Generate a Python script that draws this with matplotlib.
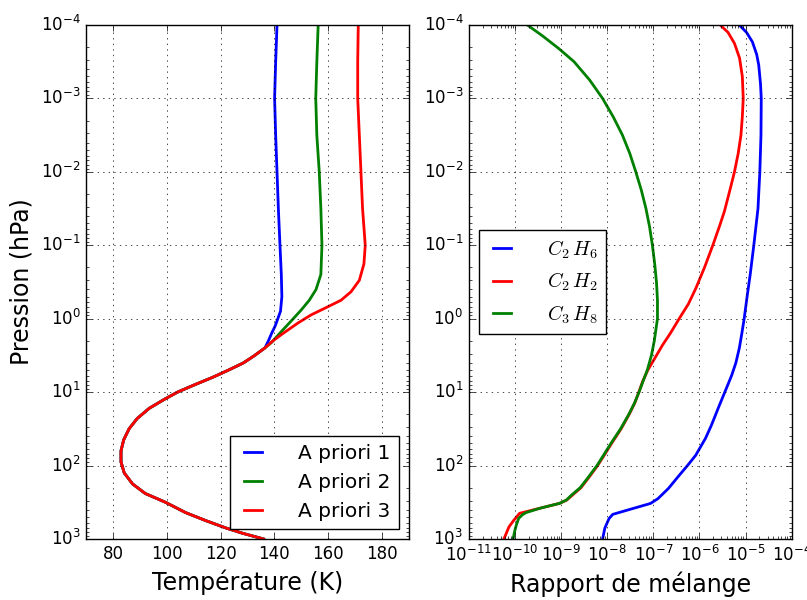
import numpy as np
import matplotlib
matplotlib.use('Agg')
import matplotlib.pyplot as plt

plt.style.use('classic')
plt.rcParams['mathtext.fontset'] = 'cm'

# ---- profils de temperature (hPa, K) ----
# partie commune (basse atmosphere)
p_common = [2.5, 3.2, 4.0, 5.0, 6.3, 7.9, 10, 12.6, 16.6, 22.9, 31.6, 44.7, 63,
            89, 126, 178, 240, 316, 437, 562, 708, 832, 1000]
t_common = [136.5, 132.5, 128.5, 123, 117, 110.5, 104, 99, 93.5, 89.0, 86.0, 84.0, 83.0,
            83.0, 84.2, 87.3, 92, 99.5, 107, 114.5, 122, 128, 136]

p_haut1 = [1e-4, 3.16e-4, 1e-3, 3.16e-3, 1e-2, 3.16e-2, 0.1, 0.25, 0.5, 0.79, 1.0, 1.26, 1.58, 2.0]
t_haut1 = [141.0, 140.5, 140.1, 140.5, 141.0, 141.5, 142.1, 142.6, 142.8, 142.3, 141.3, 140.3, 139.0, 137.8]

p_haut2 = [1e-4, 3.16e-4, 1e-3, 3.16e-3, 1e-2, 3.16e-2, 0.1, 0.25, 0.4, 0.56, 0.76, 1.1, 1.58, 2.1]
t_haut2 = [156.3, 155.8, 155.4, 155.8, 156.7, 157.3, 157.7, 157.3, 155.5, 153.0, 150.0, 146.0, 142.0, 139.0]

p_haut3 = [1e-4, 3.16e-4, 1e-3, 3.16e-3, 1e-2, 3.16e-2, 0.1, 0.18, 0.3, 0.43, 0.56, 0.69, 0.89,
           1.15, 1.58, 2.0]
t_haut3 = [171.2, 171.0, 171.0, 171.6, 172.2, 172.8, 173.8, 173.3, 171.6, 168.5, 164.8, 159.8,
           153.6, 148.7, 143.3, 139.5]

# ---- rapports de melange ----
p_c2h6 = [1e-4, 1.26e-4, 1.7e-4, 2.51e-4, 3.5e-4, 6.31e-4, 1e-3, 3.16e-3, 1e-2, 3.16e-2, 0.1,
          0.251, 0.501, 1, 1.58, 2.51, 3.98, 5.89, 10, 15.8, 28.2, 42.7, 72.4, 100, 141, 204,
          282, 328, 389, 462, 525, 708, 1000]
q_c2h6 = [7.33e-6, 1.05e-5, 1.41e-5, 1.74e-5, 1.93e-5, 2.11e-5, 2.19e-5, 2.16e-5, 2.04e-5,
          1.86e-5, 1.51e-5, 1.26e-5, 1.08e-5, 9.33e-6, 8.32e-6, 7.33e-6, 6.17e-6, 5.01e-6,
          3.55e-6, 2.63e-6, 1.82e-6, 1.35e-6, 8.3e-7, 5.5e-7, 3.47e-7, 2.14e-7, 1.26e-7,
          8.7e-8, 3.39e-8, 1.32e-8, 1.1e-8, 8.9e-9, 7.94e-9]

p_c2h2 = [1e-4, 1.26e-4, 1.78e-4, 2.82e-4, 5.01e-4, 1e-3, 1.78e-3, 3.16e-3, 5.62e-3, 1e-2,
          1.78e-2, 3.47e-2, 5.62e-2, 0.1, 0.2, 0.389, 0.631, 1, 1.58, 2.29, 3.55, 5.01, 7.08,
          10, 14.1, 20, 31.6, 50.1, 70.8, 100, 141, 200, 251, 295, 327, 380, 447,
          562, 684, 1000]
q_c2h2 = [2.82e-6, 4.17e-6, 5.75e-6, 7.41e-6, 8.51e-6, 8.91e-6, 8.51e-6, 7.94e-6, 6.92e-6,
          5.75e-6, 4.57e-6, 3.47e-6, 2.69e-6, 1.95e-6, 1.29e-6, 8.3e-7, 5.75e-7, 3.63e-7,
          2.34e-7, 1.58e-7, 1.05e-7, 7.6e-8, 5.9e-8, 4.85e-8, 3.95e-8, 3.0e-8, 2.0e-8,
          1.24e-8, 8.8e-9, 6.2e-9, 4.15e-9, 2.7e-9, 1.78e-9, 1.33e-9, 9.3e-10,
          3.55e-10, 1.26e-10, 9.3e-11, 7.41e-11, 5.75e-11]

p_c3h8 = [1e-4, 1.41e-4, 2.09e-4, 3.16e-4, 5.62e-4, 1e-3, 1.78e-3, 3.16e-3, 5.62e-3, 1e-2,
          1.78e-2, 3.16e-2, 5.62e-2, 0.1, 0.178, 0.316, 0.562, 1, 2, 3.16, 5.01, 7.08,
          10, 14.1, 20, 31.6, 50.1, 70.8, 100, 141, 200, 251, 295, 327, 380, 437,
          468, 525, 646, 794, 1000]
q_c3h8 = [1.86e-10, 3.98e-10, 8.9e-10, 1.91e-9, 4.17e-9, 7.94e-9, 1.35e-8, 2.14e-8, 3.09e-8,
          4.17e-8, 5.5e-8, 6.92e-8, 8.3e-8, 9.55e-8, 1.07e-7, 1.17e-7, 1.23e-7, 1.23e-7,
          1.05e-7, 9.1e-8, 7.4e-8, 6.0e-8, 4.9e-8, 3.9e-8, 2.95e-8, 1.95e-8, 1.2e-8,
          8.5e-9, 6.0e-9, 4.0e-9, 2.6e-9, 1.7e-9, 1.3e-9, 9.3e-10, 3.55e-10,
          1.74e-10, 1.45e-10, 1.2e-10, 1.07e-10, 9.8e-11, 9.1e-11]

fig = plt.figure(figsize=(8.07, 6.0), dpi=100, facecolor='white')
plt.subplots_adjust(left=0.1066, right=0.981, bottom=0.1017, top=0.9583, wspace=0.186)

ax1 = plt.subplot(1, 2, 1)
ax1.plot(t_haut1 + t_common, p_haut1 + p_common, 'b-', lw=2, label='A priori 1')
ax1.plot(t_haut2 + t_common, p_haut2 + p_common, 'g-', lw=2, label='A priori 2')
ax1.plot(t_haut3 + t_common, p_haut3 + p_common, 'r-', lw=2, label='A priori 3')
ax1.set_yscale('log')
ax1.set_ylim(1e3, 1e-4)
ax1.set_xlim(70, 190)
ax1.set_xticks([80, 100, 120, 140, 160, 180])
ax1.grid(True)
ax1.set_xlabel(u'Température (K)', fontsize=17)
ax1.set_ylabel('Pression (hPa)', fontsize=17)
ax1.legend(loc='lower right', fontsize=14.5, handlelength=1.5, handletextpad=1.5)

ax2 = plt.subplot(1, 2, 2)
ax2.plot(q_c2h6, p_c2h6, 'b-', lw=2, label=r'$C_2\,H_6$')
ax2.plot(q_c2h2, p_c2h2, 'r-', lw=2, label=r'$C_2\,H_2$')
ax2.plot(q_c3h8, p_c3h8, 'g-', lw=2, label=r'$C_3\,H_8$')
ax2.set_xscale('log')
ax2.set_yscale('log')
ax2.set_ylim(1e3, 1e-4)
ax2.set_xlim(1e-11, 1e-4)
ax2.grid(True)
ax2.set_xlabel(u'Rapport de mélange', fontsize=17)
ax2.legend(loc='center left', fontsize=14.5, handlelength=1.5, handletextpad=1.5)

plt.savefig('out.png', dpi=100, facecolor='white')
